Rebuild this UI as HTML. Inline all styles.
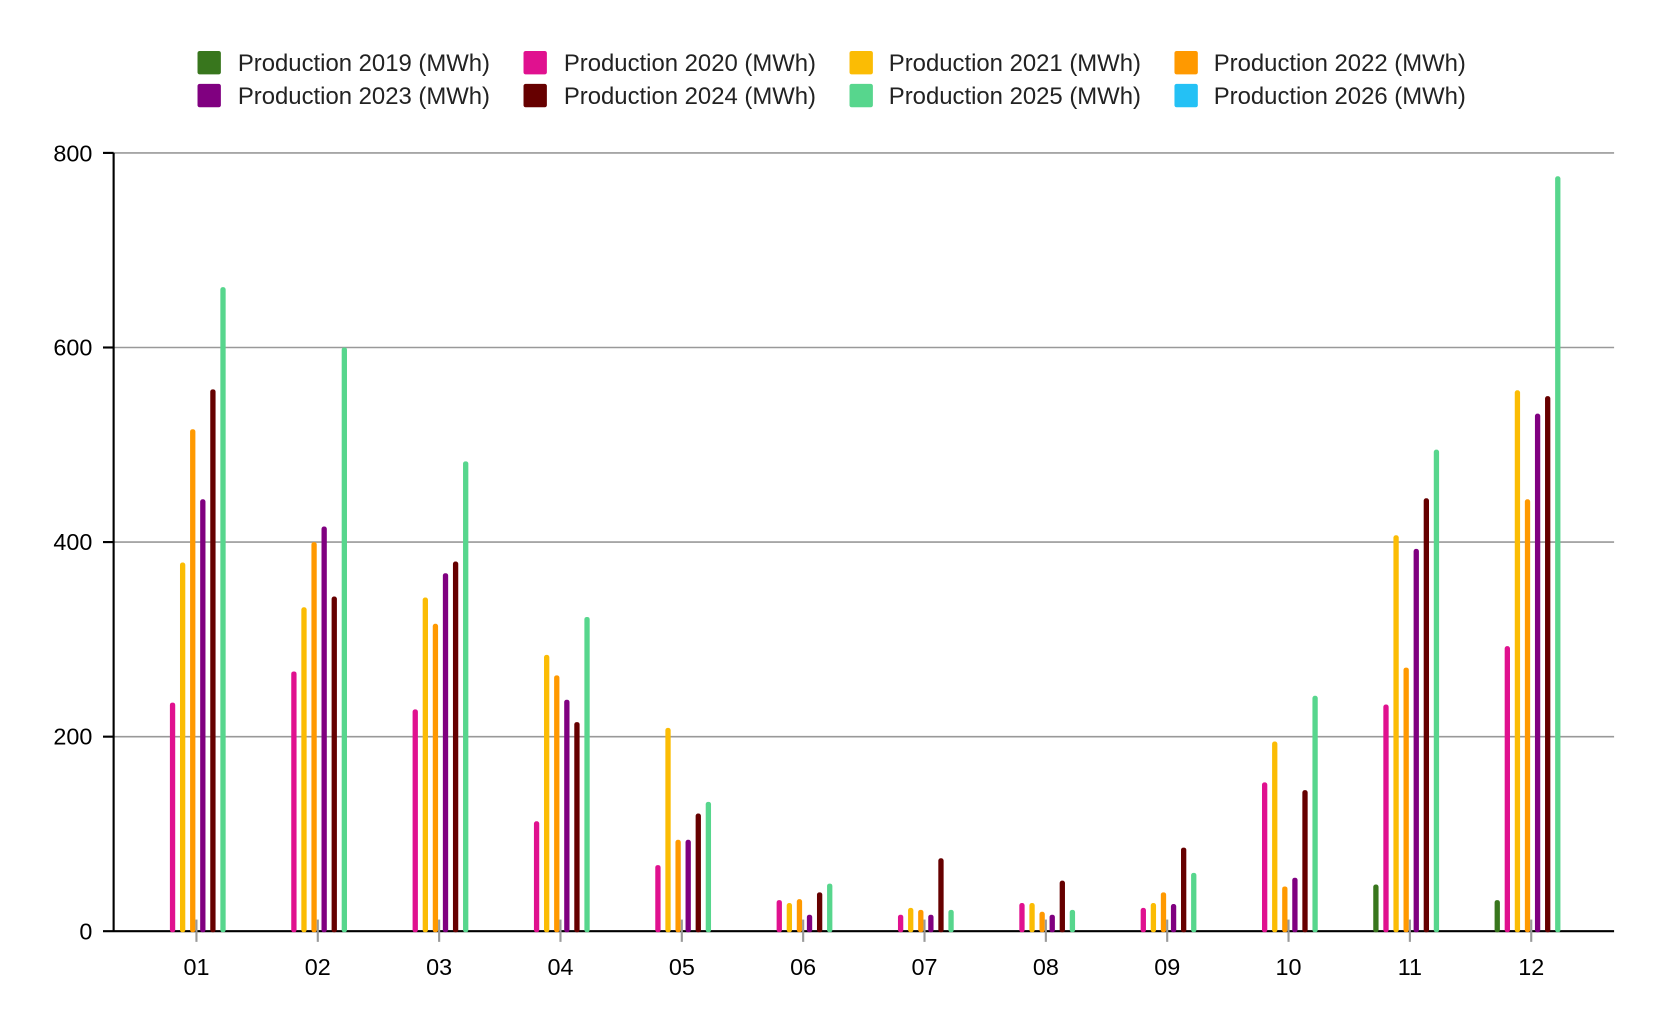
<!DOCTYPE html>
<html><head><meta charset="utf-8"><style>
html,body{margin:0;padding:0;background:#fff;}
svg{display:block;font-family:"Liberation Sans",Arial,sans-serif;}
</style></head><body>
<svg id="c" width="1664" height="1030" viewBox="0 0 1567 970" preserveAspectRatio="none" xmlns="http://www.w3.org/2000/svg">
<rect width="1567" height="970" fill="#fff"/>
<g stroke="#999" stroke-width="1.5">
<line x1="107" y1="144" x2="1520" y2="144"/>
<line x1="107" y1="327.25" x2="1520" y2="327.25"/>
<line x1="107" y1="510.5" x2="1520" y2="510.5"/>
<line x1="107" y1="693.75" x2="1520" y2="693.75"/>
</g>
<g stroke="#000" stroke-width="2">
<line x1="107" y1="144" x2="107" y2="877"/>
<line x1="97" y1="877" x2="1520" y2="877"/>
<line x1="97" y1="144" x2="107" y2="144"/>
<line x1="97" y1="327.25" x2="107" y2="327.25"/>
<line x1="97" y1="510.5" x2="107" y2="510.5"/>
<line x1="97" y1="693.75" x2="107" y2="693.75"/>
</g>
<g font-size="22" text-anchor="end" fill="#000">
<text x="87" y="152">800</text>
<text x="87" y="335">600</text>
<text x="87" y="518">400</text>
<text x="87" y="701">200</text>
<text x="87" y="885">0</text>
</g>
<g id="bars"></g>
<g id="ticks"></g>
<g font-size="22.5" fill="#222">
<rect x="186" y="48" width="22" height="22" rx="2" fill="#38761d"/><text x="224" y="67">Production 2019 (MWh)</text>
<rect x="493" y="48" width="22" height="22" rx="2" fill="#e0118f"/><text x="531" y="67">Production 2020 (MWh)</text>
<rect x="800" y="48" width="22" height="22" rx="2" fill="#fbbc04"/><text x="837" y="67">Production 2021 (MWh)</text>
<rect x="1106" y="48" width="22" height="22" rx="2" fill="#ff9900"/><text x="1143" y="67">Production 2022 (MWh)</text>
<rect x="186" y="79" width="22" height="22" rx="2" fill="#800080"/><text x="224" y="98">Production 2023 (MWh)</text>
<rect x="493" y="79" width="22" height="22" rx="2" fill="#660000"/><text x="531" y="98">Production 2024 (MWh)</text>
<rect x="800" y="79" width="22" height="22" rx="2" fill="#57d68d"/><text x="837" y="98">Production 2025 (MWh)</text>
<rect x="1106" y="79" width="22" height="22" rx="2" fill="#24c1f5"/><text x="1143" y="98">Production 2026 (MWh)</text>
</g>
</svg>
<script>
var d=[
[0,235,379,516,444,557,662],
[0,267,333,400,416,344,600],
[0,228,343,316,368,380,483],
[0,113,284,263,238,215,323],
[0,68,209,94,94,121,133],
[0,32,29,33,17,40,49],
[0,17,24,22,17,75,22],
[0,29,29,20,17,52,22],
[0,24,29,40,28,86,60],
[0,153,195,46,55,145,242],
[48,233,407,271,393,445,495],
[32,293,556,444,532,550,776]];
var col=["#38761d","#e0118f","#fbbc04","#ff9900","#800080","#660000","#57d68d"];
var off=[-32,-22.5,-13,-3.5,6,15.5,25];
var ns="http://www.w3.org/2000/svg",b=document.getElementById("bars"),t=document.getElementById("ticks");
for(var i=0;i<12;i++){var cx=185+114.27*i;
 for(var j=0;j<7;j++){var v=d[i][j];if(!v)continue;var h=v*0.91625;
  var r=document.createElementNS(ns,"rect");r.setAttribute("x",cx+off[j]-2.5);r.setAttribute("y",877-h);
  r.setAttribute("width",5);r.setAttribute("height",h+1);r.setAttribute("rx",2.2);r.setAttribute("fill",col[j]);b.appendChild(r);}
 var l=document.createElementNS(ns,"line");l.setAttribute("x1",cx);l.setAttribute("x2",cx);l.setAttribute("y1",866);l.setAttribute("y2",887);
 l.setAttribute("stroke","#999");l.setAttribute("stroke-width","2");t.appendChild(l);
 var tx=document.createElementNS(ns,"text");tx.setAttribute("x",cx);tx.setAttribute("y",918);tx.setAttribute("text-anchor","middle");
 tx.setAttribute("font-size","22");tx.textContent=(i<9?"0":"")+(i+1);t.appendChild(tx);}
</script>
</body></html>
